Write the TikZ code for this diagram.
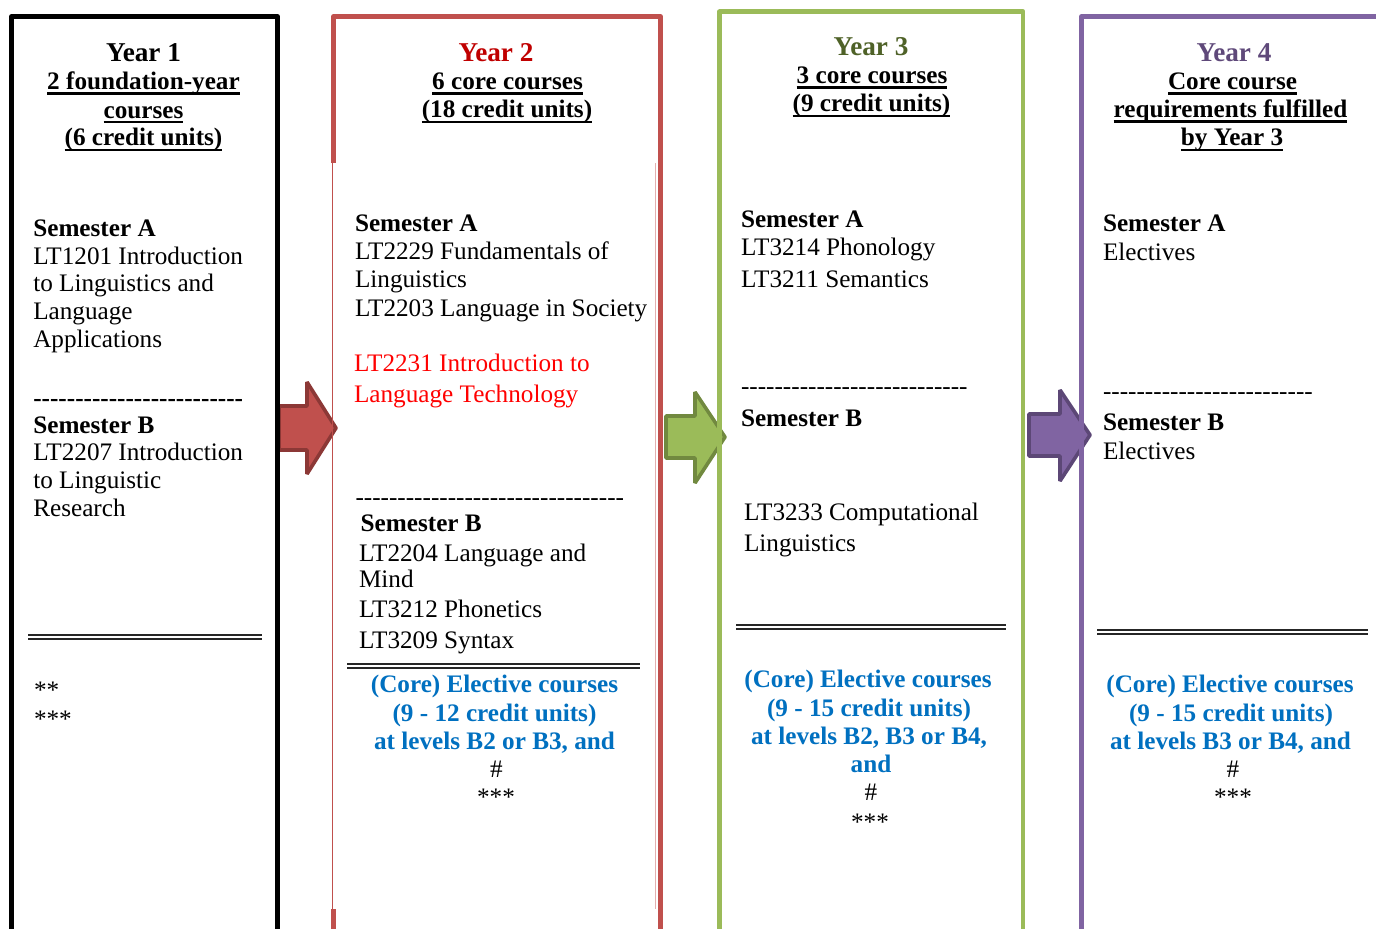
\documentclass[tikz,border=0pt]{standalone}
\usepackage{fontspec}
\setmainfont{Liberation Serif}
\definecolor{redb}{HTML}{C0504D}
\definecolor{redd}{HTML}{8C3836}
\definecolor{greenb}{HTML}{9BBB59}
\definecolor{greend}{HTML}{71893F}
\definecolor{purpb}{HTML}{8064A2}
\definecolor{purpd}{HTML}{5C4776}
\definecolor{yrtwo}{HTML}{C00000}
\definecolor{yrthree}{HTML}{4F6228}
\definecolor{yrfour}{HTML}{5F497A}
\definecolor{blu}{HTML}{0070C0}
\definecolor{redt}{HTML}{FF0000}
\newcommand\ulu[1]{\setbox0\hbox{#1}\rlap{\rule[-2.7pt]{\wd0}{1.25pt}}\box0}
\newcommand\hy[1]{\foreach \i in {1,...,#1}{-\kern0pt}}
\tikzset{
  tx/.style={inner sep=0pt, outer sep=0pt, anchor=base west, font=\fontsize{12.6}{14}\selectfont},
  tc/.style={inner sep=0pt, outer sep=0pt, anchor=base, font=\fontsize{12.6}{14}\selectfont\bfseries},
  yr/.style={inner sep=0pt, outer sep=0pt, anchor=base, font=\fontsize{13.6}{15}\selectfont\bfseries},
  bl/.style={tc, text=blu},
  frame/.style={line width=2.35pt, line join=round},
  dbl/.style={draw=black!85, double=white, line width=1pt, double distance=1.3pt},
  arr/.style={line width=1.8pt, line join=bevel},
}
\begin{document}
\begin{tikzpicture}[x=0.5pt,y=-0.5pt]
\useasboundingbox (0,0) rectangle (1376,928);
\fill[white] (0,0) rectangle (1376,928);
% arrows
\draw[arr, fill=redb, draw=redd] (279,406) -- (307,406) -- (307,382) -- (336,428) -- (307,474) -- (307,450) -- (279,450) -- cycle;
\draw[arr, fill=greenb, draw=greend] (666,416) -- (695,416) -- (695,392) -- (725,437) -- (695,483) -- (695,458) -- (666,458) -- cycle;
\draw[arr, fill=purpb, draw=purpd] (1029,414) -- (1060,414) -- (1060,390) -- (1090,435) -- (1060,481) -- (1060,456) -- (1029,456) -- cycle;
% frames
\draw[frame, black] (11.7,940) -- (11.7,16.5) -- (277.5,16.5) -- (277.5,940);
\draw[frame, redb] (333.4,163) -- (333.4,16.5) -- (660.5,16.5) -- (660.5,940);
\draw[redb, line width=0.6pt] (332.4,163) -- (332.4,909);
\draw[redb!45, line width=0.4pt] (655.5,163) -- (655.5,909);
\draw[redb, line width=2.35pt] (333.4,909) -- (333.4,940);
\draw[frame, greenb] (719.5,940) -- (719.5,11.8) -- (1023,11.8) -- (1023,940);
\draw[frame, purpb] (1081.5,940) -- (1081.5,16.5) -- (1400,16.5);
% double rules
\draw[dbl] (28,637) -- (262,637);
\draw[dbl] (347,666) -- (640,666);
\draw[dbl] (736,627) -- (1006,627);
\draw[dbl] (1097,632) -- (1368,632);

% ---------- Year 1
\node[yr] (y1) at (143.5,61.7) {Year 1};
\node[tc] (y1a) at (143.5,89.3) {\ulu{2 foundation-year}};
\node[tc] (y1b) at (143.5,118) {\ulu{courses}};
\node[tc] (y1c) at (143.5,145.7) {\ulu{(6 credit units)}};
\node[tx] (a1s) at (33.3,236.7) {\textbf{Semester A}};
\node[tx] (a1l1) at (33.3,264) {LT1201 Introduction};
\node[tx] (a1l2) at (33.3,291.7) {to Linguistics and};
\node[tx] (a1l3) at (33.3,319.3) {Language};
\node[tx] (a1l4) at (33.3,347.3) {Applications};
\node[tx] (a1d) at (33.3,406.5) {\textbf{\hy{25}}};
\node[tx] (b1s) at (33.3,433.3) {\textbf{Semester B}};
\node[tx] (b1l1) at (33.3,460.7) {LT2207 Introduction};
\node[tx] (b1l2) at (33.3,488.3) {to Linguistic};
\node[tx] (b1l3) at (33.3,516) {Research};
\node[tx] (e1a) at (34,698) {**};
\node[tx] (e1b) at (34,727) {***};

% ---------- Year 2
\node[yr, text=yrtwo] (y2) at (496,61.7) {Year 2};
\node[tc] (y2a) at (507.5,89.3) {\ulu{6 core courses}};
\node[tc] (y2b) at (507,117.7) {\ulu{(18 credit units)}};
\node[tx] (a2s) at (355,231) {\textbf{Semester A}};
\node[tx] (a2l1) at (355,259) {LT2229 Fundamentals of};
\node[tx] (a2l2) at (355,287.3) {Linguistics};
\node[tx] (a2l3) at (355,316) {LT2203 Language in Society};
\node[tx, text=redt] (a2r1) at (354,371) {LT2231 Introduction to};
\node[tx, text=redt] (a2r2) at (354,402) {Language Technology};
\node[tx] (a2d) at (355.5,505) {\hy{32}};
\node[tx] (b2s) at (360.7,531.7) {\textbf{Semester B}};
\node[tx] (b2l1) at (359,561) {LT2204 Language and};
\node[tx] (b2l2) at (359,587.3) {Mind};
\node[tx] (b2l3) at (359,617.7) {LT3212 Phonetics};
\node[tx] (b2l4) at (359,648.3) {LT3209 Syntax};
\node[bl] (c2a) at (494.5,692.7) {(Core) Elective courses};
\node[bl] (c2b) at (494.5,721.7) {(9 - 12 credit units)};
\node[bl] (c2c) at (494.5,749.3) {at levels B2 or B3, and};
\node[tx, anchor=base] (c2d) at (496.5,777.3) {\#};
\node[tx, anchor=base] (c2e) at (496,805) {***};

% ---------- Year 3
\node[yr, text=yrthree] (y3) at (871,55) {Year 3};
\node[tc] (y3a) at (872,83.3) {\ulu{3 core courses}};
\node[tc] (y3b) at (871.5,111.7) {\ulu{(9 credit units)}};
\node[tx] (a3s) at (741,227) {\textbf{Semester A}};
\node[tx] (a3l1) at (741,255) {LT3214 Phonology};
\node[tx] (a3l2) at (741,287) {LT3211 Semantics};
\node[tx] (a3d) at (741,394) {\hy{27}};
\node[tx] (b3s) at (741,426) {\textbf{Semester B}};
\node[tx] (b3l1) at (744,520) {LT3233 Computational};
\node[tx] (b3l2) at (744,551) {Linguistics};
\node[bl] (c3a) at (868,687.7) {(Core) Elective courses};
\node[bl] (c3b) at (869,716.7) {(9 - 15 credit units)};
\node[bl] (c3c) at (869,744.3) {at levels B2, B3 or B4,};
\node[bl] (c3d) at (871,772.7) {and};
\node[tx, anchor=base] (c3e) at (871,800) {\#};
\node[tx, anchor=base] (c3f) at (870,830) {***};

% ---------- Year 4
\node[yr, text=yrfour] (y4) at (1234,61.7) {Year 4};
\node[tc] (y4a) at (1232.5,89.3) {\ulu{Core course}};
\node[tc] (y4b) at (1230.5,117.3) {\ulu{requirements fulfilled}};
\node[tc] (y4c) at (1232,145.7) {\ulu{by Year 3}};
\node[tx] (a4s) at (1103,231) {\textbf{Semester A}};
\node[tx] (a4l1) at (1103,260) {Electives};
\node[tx] (a4d) at (1103,399) {\hy{25}};
\node[tx] (b4s) at (1103,430) {\textbf{Semester B}};
\node[tx] (b4l1) at (1103,459) {Electives};
\node[bl] (c4a) at (1230,692.7) {(Core) Elective courses};
\node[bl] (c4b) at (1231,721.7) {(9 - 15 credit units)};
\node[bl] (c4c) at (1230.5,749.3) {at levels B3 or B4, and};
\node[tx, anchor=base] (c4d) at (1233,777.3) {\#};
\node[tx, anchor=base] (c4e) at (1233,805) {***};
\end{tikzpicture}
\end{document}
